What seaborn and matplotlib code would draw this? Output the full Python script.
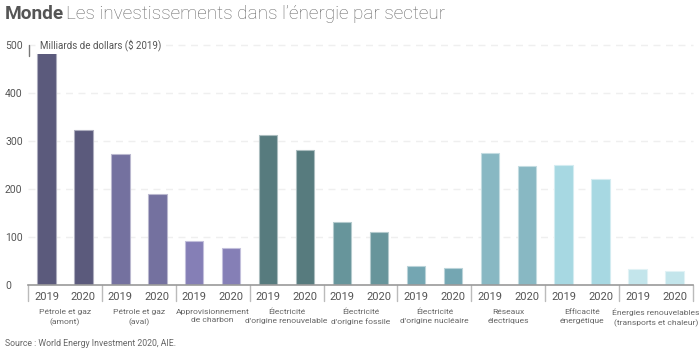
import matplotlib
matplotlib.use("Agg")
import matplotlib.pyplot as plt
import matplotlib.colors as mcolors
import seaborn as sns
import pandas as pd
import numpy as np

sectors = ["Pétrole et gaz\n(amont)", "Pétrole et gaz\n(aval)", "Approvisionnement\nde charbon",
           "Électricité\nd'origine renouvelable", "Électricité\nd'origine fossile",
           "Électricité\nd'origine nucléaire", "Réseaux\nélectriques", "Efficacité\nénergétique",
           "Énergies renouvelables\n(transports et chaleur)"]
years = ["2019", "2020"]
values_2019 = [485, 273, 92, 312, 131, 40, 275, 250, 33]
values_2020 = [323, 190, 77, 281, 110, 35, 248, 221, 29]
colors = ["#5b5a7c", "#74719f", "#857fb6", "#577b7e", "#67959b", "#74a6b2", "#88b8c3", "#a7d8e2", "#c3e5eb"]

rows = []
for i, s in enumerate(sectors):
    rows.append({"bar": f"{i}-2019", "year": years[0], "sector": s, "value": values_2019[i]})
    rows.append({"bar": f"{i}-2020", "year": years[1], "sector": s, "value": values_2020[i]})
df = pd.DataFrame(rows)

sns.set_style("white")
plt.rcParams["font.family"] = ["Roboto", "DejaVu Sans"]

fig = plt.figure(figsize=(7.0, 3.49), dpi=100)
ax = fig.add_axes([28/700, 1-285/349, (693-28)/700, (285-45)/349])

sns.barplot(data=df, x="bar", y="value", hue="sector", palette=colors, dodge=False,
            width=0.5, legend=False, ax=ax, saturation=1)
for p in ax.patches:
    fc = p.get_facecolor()
    light = tuple(np.array(mcolors.to_rgb(fc)) * 0.5 + 0.5)
    p.set_edgecolor(light)
    p.set_linewidth(0.8)

ax.set_xlim(-0.5, len(df) - 0.5)
ax.set_ylim(0, 500)
ax.set_xlabel("")
ax.set_ylabel("")

for sp in ["top", "right", "left"]:
    ax.spines[sp].set_visible(False)
ax.spines["bottom"].set_color("#9a9a9a")
ax.spines["bottom"].set_linewidth(1.2)

ax.set_yticks([0, 100, 200, 300, 400, 500])
ax.set_yticklabels(["0", "100", "200", "300", "400", "500"])
ax.tick_params(axis="y", length=0, pad=0, labelsize=7.5, labelcolor="#555555")
for lab in ax.get_yticklabels():
    lab.set_horizontalalignment("left")
    lab.set_x(-23/665)
ax.set_axisbelow(True)
for yv in [100, 200, 300, 400, 500]:
    ax.axhline(yv, color="#efefef", lw=1, dashes=(5, 4), zorder=0, clip_on=False)

ax.set_xticks(range(len(df)))
ax.set_xticklabels([r["year"] for r in rows])
ax.tick_params(axis="x", length=0, pad=5, labelsize=8, labelcolor="#555555")

# group separators
for g in range(len(sectors) + 1):
    xg = g * 2 - 0.5
    ax.plot([xg, xg], [0, -0.065], transform=ax.get_xaxis_transform(), color="#bbbbbb",
            lw=1, clip_on=False)

# sector labels
for i, s in enumerate(sectors):
    ax.text(i * 2 + 0.5, -0.1, s, transform=ax.get_xaxis_transform(), ha="center", va="top",
            fontsize=6.1, color="#666666", linespacing=1.5)

# unit label
ax.text(12/665, 500, "Milliards de dollars ($ 2019)", transform=ax.get_yaxis_transform(),
        ha="left", va="center", fontsize=7, color="#555555",
        bbox=dict(facecolor="white", edgecolor="none", pad=2))
ax.plot([0.002, 0.002], [0.955, 1.0], transform=ax.transAxes, color="#777777", lw=1, clip_on=False)

fig.text(5/700, 1-14/349, "Monde", fontsize=13.7, fontweight="bold", color="#555555", va="center", ha="left")
fig.text(66/700, 1-14/349, "Les investissements dans l\u2019énergie par secteur",
         fontsize=13.7, fontweight="light", color="#666666", va="center", ha="left")
fig.text(5/700, 1-343/349, "Source : World Energy Investment 2020, AIE.", fontsize=6.3,
         color="#666666", va="center", ha="left")

fig.savefig("out.png", dpi=100)
